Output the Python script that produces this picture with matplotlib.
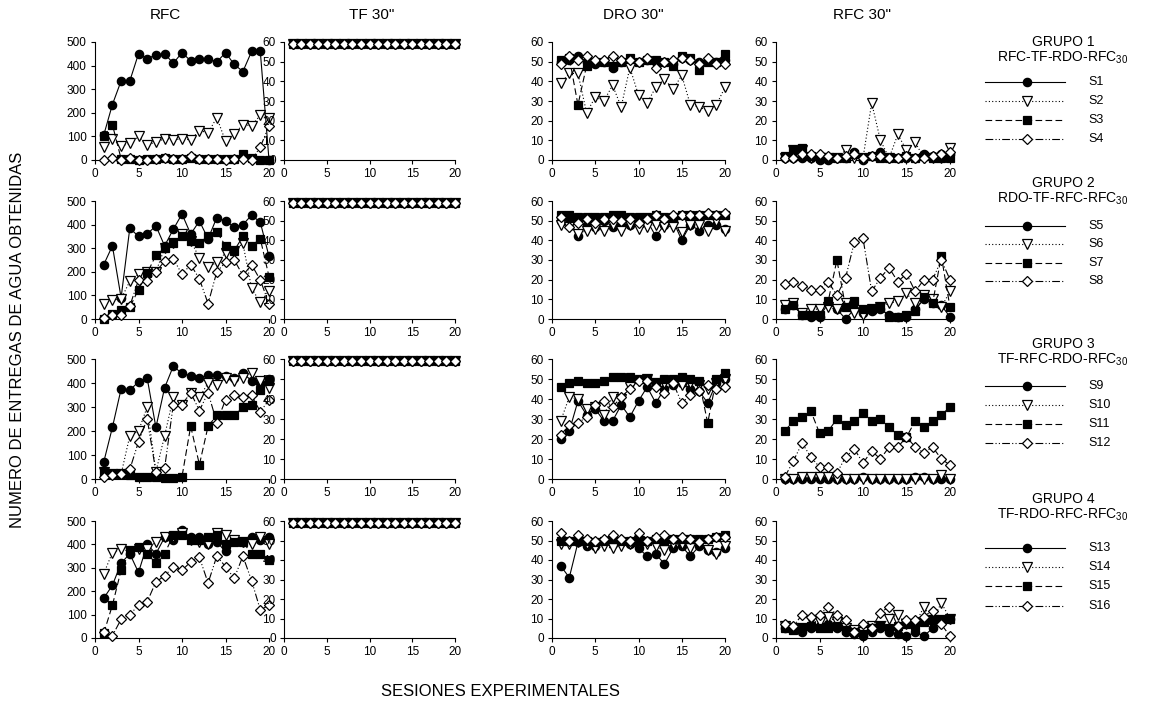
import numpy as np
import matplotlib
matplotlib.use("Agg")
from matplotlib import pyplot as plt
from matplotlib.lines import Line2D

plt.rcParams['font.family'] = ['Liberation Sans', 'DejaVu Sans']
plt.rcParams['mathtext.fontset'] = 'custom'
plt.rcParams['mathtext.rm'] = 'Liberation Sans'

# Data
sessions = list(range(1, 21))
columns = ['RFC', 'TF 30"', 'DRO 30"', 'RFC 30"']
groups = ['GRUPO 1', 'GRUPO 2', 'GRUPO 3', 'GRUPO 4']
group_orders = ['RFC-TF-RDO-RFC$_{30}$', 'RDO-TF-RFC-RFC$_{30}$',
                'TF-RFC-RDO-RFC$_{30}$', 'TF-RDO-RFC-RFC$_{30}$']
subjects = [['S1', 'S2', 'S3', 'S4'], ['S5', 'S6', 'S7', 'S8'],
            ['S9', 'S10', 'S11', 'S12'], ['S13', 'S14', 'S15', 'S16']]

tf_all = [59] * 20

# grupo 1
g1_rfc = [
    [105, 235, 335, 335, 450, 430, 445, 450, 410, 455, 420, 430, 430, 415, 455, 405, 375, 460, 460, 0],
    [55, 90, 60, 70, 100, 65, 75, 90, 85, 90, 85, 125, 115, 180, 80, 110, 150, 145, 190, 180],
    [100, 150, 5, 5, 0, 5, 5, 10, 5, 5, 10, 5, 5, 5, 5, 5, 25, 10, 0, 0],
    [0, 10, 0, 10, 0, 0, 5, 10, 5, 5, 15, 5, 5, 5, 0, 5, 5, 0, 55, 145],
]
g1_dro = [
    [50, 51, 53, 50, 49, 50, 47, 50, 51, 50, 51, 50, 50, 49, 52, 51, 50, 51, 50, 51],
    [39, 44, 44, 24, 32, 30, 38, 27, 47, 33, 29, 37, 41, 36, 43, 28, 27, 25, 28, 37],
    [51, 52, 28, 48, 50, 50, 48, 50, 52, 50, 51, 51, 50, 48, 53, 52, 46, 50, 50, 54],
    [49, 53, 51, 53, 51, 51, 53, 51, 51, 50, 52, 47, 50, 51, 52, 51, 49, 52, 49, 49],
]
g1_rfc30 = [
    [1, 1, 1, 1, 0, 0, 1, 1, 4, 0, 2, 4, 1, 1, 1, 1, 3, 2, 3, 3],
    [1, 5, 5, 1, 1, 1, 1, 5, 1, 1, 29, 10, 1, 13, 5, 9, 1, 1, 1, 6],
    [2, 5, 6, 2, 1, 1, 1, 1, 3, 1, 2, 1, 1, 1, 2, 1, 2, 1, 1, 1],
    [1, 1, 3, 3, 3, 2, 1, 2, 3, 1, 2, 2, 1, 1, 2, 1, 1, 2, 3, 4],
]

# grupo 2
g2_rfc = [
    [230, 310, 90, 385, 350, 360, 395, 310, 380, 445, 360, 415, 340, 430, 415, 390, 400, 440, 410, 265],
    [65, 80, 85, 160, 190, 200, 200, 300, 320, 360, 330, 260, 220, 240, 280, 290, 320, 130, 70, 120],
    [0, 20, 40, 50, 125, 195, 270, 300, 320, 350, 330, 320, 350, 370, 310, 290, 350, 310, 340, 180],
    [5, 15, 15, 55, 165, 160, 200, 245, 255, 190, 230, 170, 65, 200, 240, 250, 185, 230, 165, 65],
]
g2_dro = [
    [50, 50, 42, 48, 47, 50, 47, 48, 48, 50, 50, 42, 48, 50, 40, 48, 45, 48, 48, 46],
    [48, 47, 43, 45, 46, 45, 48, 45, 48, 46, 47, 48, 47, 47, 44, 48, 48, 45, 50, 45],
    [53, 53, 52, 52, 52, 52, 53, 53, 52, 52, 52, 53, 52, 52, 53, 53, 53, 53, 53, 53],
    [52, 47, 49, 51, 49, 51, 51, 50, 51, 49, 51, 53, 51, 53, 53, 53, 53, 54, 53, 54],
]
g2_rfc30 = [
    [5, 7, 2, 1, 1, 8, 5, 0, 5, 3, 4, 5, 2, 1, 1, 5, 10, 8, 7, 1],
    [7, 8, 3, 5, 5, 6, 5, 8, 3, 2, 5, 6, 8, 9, 13, 8, 12, 10, 6, 14],
    [5, 7, 2, 2, 2, 9, 30, 6, 9, 5, 5, 6, 1, 1, 2, 4, 11, 8, 32, 6],
    [18, 19, 17, 15, 15, 19, 12, 21, 39, 41, 14, 21, 26, 19, 23, 14, 20, 20, 30, 20],
]

# grupo 3
g3_rfc = [
    [70, 215, 375, 370, 405, 420, 215, 380, 470, 440, 430, 420, 435, 435, 430, 420, 440, 410, 400, 415],
    [30, 20, 20, 180, 200, 300, 30, 180, 340, 310, 360, 340, 400, 390, 420, 410, 420, 440, 410, 380],
    [30, 20, 20, 15, 10, 10, 10, 5, 5, 10, 220, 60, 220, 265, 265, 265, 300, 310, 370, 410],
    [10, 15, 20, 40, 155, 250, 30, 45, 310, 310, 360, 285, 360, 235, 330, 350, 340, 350, 280, 330],
]
g3_dro = [
    [20, 24, 39, 32, 35, 29, 29, 37, 31, 39, 46, 38, 45, 47, 48, 45, 44, 38, 48, 50],
    [29, 41, 40, 35, 36, 32, 41, 40, 46, 49, 50, 48, 48, 48, 47, 48, 47, 45, 48, 50],
    [46, 48, 49, 48, 48, 49, 51, 51, 51, 50, 50, 48, 50, 50, 51, 50, 49, 28, 50, 53],
    [22, 27, 28, 31, 37, 39, 36, 41, 45, 49, 49, 46, 43, 48, 38, 42, 44, 47, 45, 46],
]
g3_rfc30 = [
    [0, 0, 0, 0, 0, 0, 0, 0, 0, 1, 0, 0, 0, 0, 0, 1, 1, 0, 0, 0],
    [0, 0, 1, 1, 1, 1, 0, 0, 0, 0, 0, 0, 0, 0, 0, 0, 0, 0, 2, 0],
    [24, 29, 31, 34, 23, 24, 30, 27, 29, 33, 29, 30, 26, 22, 21, 29, 26, 29, 32, 36],
    [1, 9, 18, 11, 6, 6, 3, 11, 15, 8, 14, 10, 16, 16, 21, 16, 13, 16, 10, 7],
]

# grupo 4
g4_rfc = [
    [170, 225, 320, 360, 280, 400, 360, 430, 420, 460, 430, 430, 400, 410, 370, 420, 410, 430, 420, 430],
    [275, 365, 380, 370, 380, 380, 410, 430, 430, 450, 420, 410, 400, 450, 440, 420, 410, 400, 430, 400],
    [20, 140, 290, 370, 390, 360, 320, 360, 440, 440, 420, 420, 430, 440, 400, 410, 410, 360, 360, 335],
    [25, 10, 80, 100, 140, 155, 240, 265, 305, 290, 325, 345, 235, 350, 305, 255, 350, 245, 120, 140],
]
g4_dro = [
    [37, 31, 49, 47, 47, 50, 48, 49, 48, 46, 42, 43, 38, 46, 47, 42, 47, 45, 44, 46],
    [48, 48, 49, 48, 46, 47, 46, 47, 48, 50, 48, 47, 45, 48, 48, 46, 50, 45, 43, 47],
    [50, 50, 50, 50, 49, 50, 51, 50, 50, 50, 50, 51, 50, 51, 51, 51, 51, 51, 52, 53],
    [54, 50, 53, 51, 50, 51, 53, 51, 50, 54, 50, 52, 53, 51, 52, 51, 49, 51, 52, 52],
]
g4_rfc30 = [
    [5, 5, 3, 5, 6, 7, 5, 3, 2, 1, 3, 5, 3, 2, 1, 3, 1, 5, 9, 10],
    [6, 5, 5, 9, 8, 11, 8, 5, 4, 3, 6, 6, 10, 12, 7, 7, 16, 9, 18, 10],
    [5, 4, 5, 6, 5, 5, 6, 4, 3, 2, 5, 6, 5, 6, 7, 6, 8, 9, 10, 10],
    [7, 6, 12, 11, 12, 16, 12, 9, 3, 7, 5, 13, 16, 6, 9, 9, 11, 14, 7, 1],
]

panels = [
    [g1_rfc, [tf_all] * 4, g1_dro, g1_rfc30],
    [g2_rfc, [tf_all] * 4, g2_dro, g2_rfc30],
    [g3_rfc, [tf_all] * 4, g3_dro, g3_rfc30],
    [g4_rfc, [tf_all] * 4, g4_dro, g4_rfc30],
]

# styles: S1 filled circle solid, S2 open triangle dotted, S3 filled square dashed, S4 open diamond dash-dot-dot
styles = [
    dict(marker='o', ls='-', mfc='black'),
    dict(marker='v', ls=(0, (1, 2)), mfc='white'),
    dict(marker='s', ls=(0, (6, 3)), mfc='black'),
    dict(marker='D', ls=(0, (7, 2, 1, 2, 1, 2)), mfc='white'),
]
msizes = [6, 6.5, 5.5, 5.5]

W, H = 1149, 715
fig = plt.figure(figsize=(W / 100, H / 100), dpi=100)

# pixel geometry of the panels
col_x = [(95, 269), (284, 455), (552, 725), (776, 950)]
row_y = [(42, 160), (201, 319), (359, 479), (521, 638)]
title_x = [165, 372, 633, 862]

for r in range(4):
    for c in range(4):
        x0, x1 = col_x[c]
        yt, yb = row_y[r]
        ax = fig.add_axes([x0 / W, 1 - yb / H, (x1 - x0) / W, (yb - yt) / H])
        for k in range(4):
            st = styles[k]
            ax.plot(sessions, panels[r][c][k], color='black', lw=0.8,
                    marker=st['marker'], ls=st['ls'], mfc=st['mfc'],
                    mec='black', mew=0.9, ms=msizes[k], clip_on=False, zorder=3 + k)
        ax.set_xlim(0, 20)
        if c == 0:
            ax.set_ylim(0, 500)
            ax.set_yticks(range(0, 501, 100))
        else:
            ax.set_ylim(0, 60)
            ax.set_yticks(range(0, 61, 10))
        ax.set_xticks([0, 5, 10, 15, 20])
        ax.spines['top'].set_visible(False)
        ax.spines['right'].set_visible(False)
        ax.tick_params(direction='out', length=3, width=0.8, labelsize=8.5, pad=3)
        ax.patch.set_alpha(0)

for c in range(4):
    fig.text(title_x[c] / W, 1 - 15 / H, columns[c], ha='center', va='center', fontsize=11)

# axis labels
fig.text(18 / W, 1 - 340 / H, 'NUMERO DE ENTREGAS DE AGUA OBTENIDAS', rotation=90,
         ha='center', va='center', fontsize=12)
fig.text(500 / W, 1 - 691 / H, 'SESIONES EXPERIMENTALES', ha='center', va='center', fontsize=12)

# legends on the right
title_y = [42, 183, 344, 499]
entry_y = [[82, 101, 120, 139], [226, 244, 263, 281], [386, 405, 424, 443], [548, 567, 586, 606]]
for g in range(4):
    fig.text(1063 / W, 1 - title_y[g] / H, groups[g], ha='center', va='center', fontsize=10)
    fig.text(1063 / W, 1 - (title_y[g] + 16) / H, group_orders[g], ha='center', va='center', fontsize=10)
    for k in range(4):
        yy = 1 - entry_y[g][k] / H
        st = styles[k]
        fig.add_artist(Line2D([985 / W, 1065 / W], [yy, yy], color='black', lw=0.8, ls=st['ls']))
        fig.add_artist(Line2D([1027 / W], [yy], color='black', marker=st['marker'], mfc=st['mfc'],
                              mec='black', mew=0.9, ms=msizes[k], ls='none'))
        fig.text(1088 / W, yy, subjects[g][k], ha='left', va='center', fontsize=9)

fig.savefig('out.png', dpi=100)
